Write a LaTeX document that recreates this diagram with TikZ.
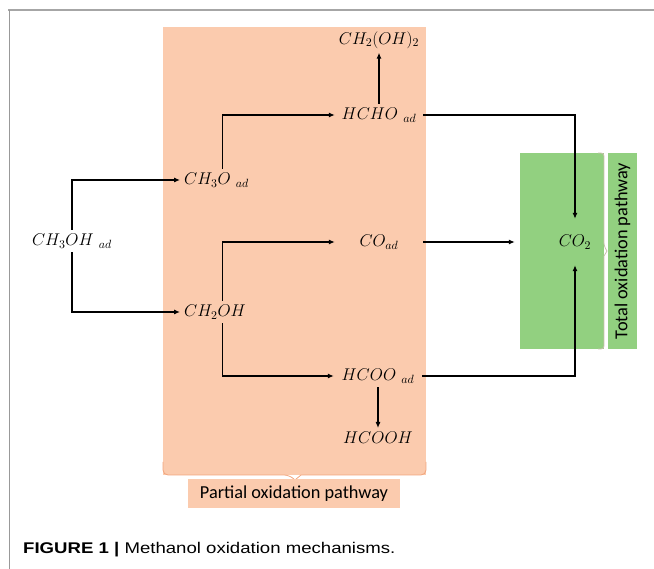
\documentclass[tikz,border=0pt]{standalone}
\usepackage{fix-cm}
\usepackage{fontspec}
\newfontfamily\capfont[FakeStretch=1.2]{Liberation Sans}
\newfontfamily\boxfont{Carlito}
\usetikzlibrary{arrows.meta}
\definecolor{partial}{RGB}{251,203,174}
\definecolor{partialdark}{RGB}{242,165,125}
\definecolor{total}{RGB}{146,208,128}
\definecolor{bracegray}{RGB}{200,192,172}

\begin{document}
\begin{tikzpicture}[x=1pt,y=-1pt,
  chem/.style={font=\fontsize{17}{20}\selectfont, inner sep=4pt},
  mid/.style={chem, minimum width=88pt},
  arr/.style={line width=1.1pt, -{Latex[length=6pt,width=5pt]}},
  boxlabel/.style={font=\boxfont\fontsize{18.3}{21}\selectfont, inner sep=0pt}]
\useasboundingbox (0,0) rectangle (654,569);

% frame
\draw[gray!70, line width=1.8pt] (8,10) -- (654,10);
\draw[gray!80, line width=0.6pt] (9,10) -- (9,569);

% partial oxidation panel
\fill[partial] (163,27) rectangle (426,475);
\draw[partialdark, line width=0.8pt] (163,462) [rounded corners=5pt]|- (289,475)
  [sharp corners]-- (295,480) -- (301,475) [rounded corners=5pt]-| (426,462);
\node[boxlabel, fill=partial, minimum width=212pt, minimum height=29pt] (partlab) at (294,494) {Partial oxidation pathway};

% total oxidation panel
\fill[total] (520,153) rectangle (604,349);
\draw[bracegray, line width=0.8pt] (598,153) [rounded corners=3pt]-| (604,246)
  [sharp corners]-- (607,251) -- (604,256) [rounded corners=3pt]|- (598,349);
\node[boxlabel, fill=total, rotate=90, minimum width=196pt, minimum height=29pt] (totlab) at (622.5,251) {Total oxidation pathway};

% species
\node[chem] (ch3oh) at (72,241) {$CH_3OH\ {}_{ad}$};
\node[chem, anchor=west] (ch3o) at (180,180) {$CH_3O\ {}_{ad}$};
\node[chem, anchor=west] (ch2oh) at (180,312) {$CH_2OH$};
\node[mid] (hcho) at (379,115) {$HCHO\ {}_{ad}$};
\node[chem] (ch2oh2) at (379,40) {$CH_2(OH)_2$};
\node[mid] (co) at (379,242) {$CO_{ad}$};
\node[mid] (hcoo) at (378,376) {$HCOO\ {}_{ad}$};
\node[chem] (hcooh) at (378,438) {$HCOOH$};
\node[chem, minimum width=120pt, minimum height=46pt] (co2) at (575,242) {$CO_2$};

% pathways
\draw[arr] (ch3oh.north) |- (ch3o.west);
\draw[arr] (ch3oh.south) |- (ch2oh.west);
\draw[arr] ([xshift=6pt]ch3o.north) |- (hcho.west);
\draw[arr] ([xshift=6pt]ch2oh.north -| ch3o.north) |- (co.west);
\draw[arr] ([xshift=6pt]ch2oh.south -| ch3o.north) |- (hcoo.west);
\draw[arr] (hcho.north) -- (ch2oh2.south);
\draw[arr] (hcoo.south) -- (hcooh.north);
\draw[arr] (hcho.east) -| (co2.north);
\draw[arr] (co.east) -- (co2.west);
\draw[arr] (hcoo.east) -| (co2.south);

\node[anchor=west, inner sep=0pt, font=\capfont\fontsize{15.5}{18}\selectfont] (caption) at (23,550) {\textbf{FIGURE 1 |} Methanol oxidation mechanisms.};
\end{tikzpicture}
\end{document}
